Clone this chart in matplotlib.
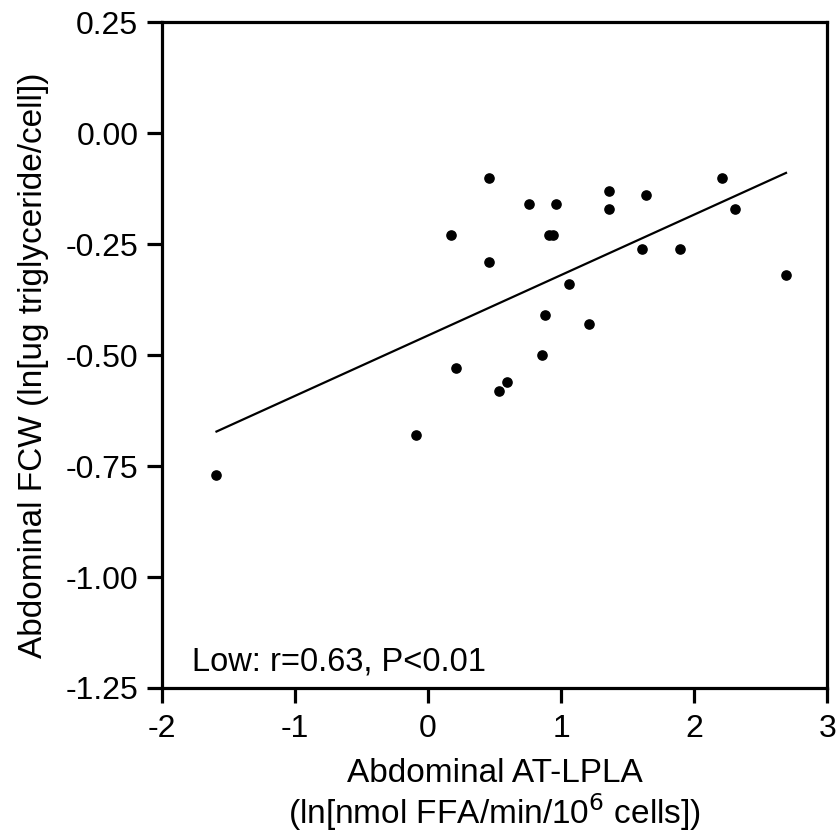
"""Abdominal FCW vs AT-LPLA scatter with regression line."""

import matplotlib
matplotlib.use("Agg")
import matplotlib.pyplot as plt
import numpy as np

# values
lpla = [0.46, 0.17, 0.46, 0.76, 0.96, 0.91, 0.94, 1.36, 1.36, 1.64, 1.61,
        1.89, 2.21, 2.31, 2.69, 1.06, 0.88, 1.21, 0.86, 0.21, 0.59, 0.53,
        -1.59, -0.09]
fcw = [-0.10, -0.23, -0.29, -0.16, -0.16, -0.23, -0.23, -0.13, -0.17, -0.14,
       -0.26, -0.26, -0.10, -0.17, -0.32, -0.34, -0.41, -0.43, -0.50, -0.53,
       -0.56, -0.58, -0.77, -0.68]
x_ticks = [-2, -1, 0, 1, 2, 3]
y_ticks = [0.25, 0.00, -0.25, -0.50, -0.75, -1.00, -1.25]
annotation = "Low: r=0.63, P<0.01"

plt.rcParams["font.family"] = ["Liberation Sans", "DejaVu Sans"]
plt.rcParams["axes.unicode_minus"] = False

fig = plt.figure(figsize=(8.39, 8.39), dpi=100)
ax = fig.add_axes([0.193, 0.18, 0.793, 0.7934])

x = np.array(lpla)
y = np.array(fcw)
ax.scatter(x, y, s=44, color="black", zorder=3)

slope, intercept = np.polyfit(x, y, 1)
line_x = np.array([x.min(), x.max()])
ax.plot(line_x, slope * line_x + intercept, color="black", lw=1.6)

ax.set_xlim(-2, 3)
ax.set_ylim(-1.25, 0.25)
ax.set_xticks(x_ticks)
ax.set_yticks(y_ticks)
ax.set_yticklabels([f"{v:.2f}" for v in y_ticks])

for side in ax.spines.values():
    side.set_linewidth(2.3)
ax.tick_params(axis="both", width=2.3, length=11, labelsize=23)
ax.tick_params(axis="x", pad=8)
ax.tick_params(axis="y", pad=6)

ax.set_xlabel("Abdominal AT-LPLA\n(ln[nmol FFA/min/10$^{6}$ cells])",
              fontsize=24, labelpad=10, linespacing=1.05)
ax.set_ylabel("Abdominal FCW (ln[ug triglyceride/cell])", fontsize=24)
ax.yaxis.set_label_coords(-0.17, 0.485)

ax.text(0.045, 0.015, annotation, transform=ax.transAxes, fontsize=23.5,
        ha="left", va="bottom")

fig.savefig("out.png", dpi=100)
